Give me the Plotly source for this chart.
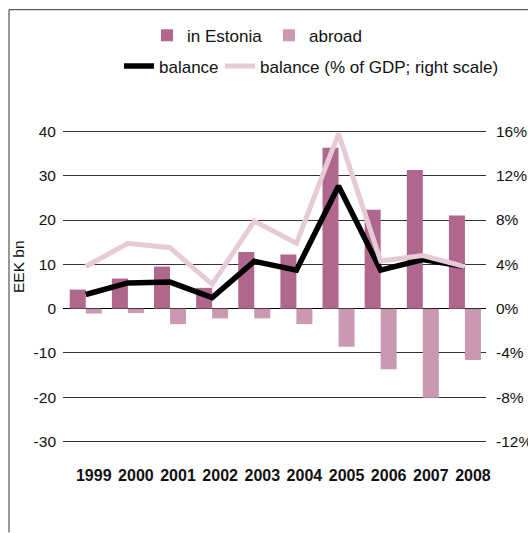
import plotly.graph_objects as go

years = ["1999", "2000", "2001", "2002", "2003", "2004", "2005", "2006", "2007", "2008"]
in_estonia = [4.3, 6.8, 9.5, 4.7, 12.8, 12.2, 36.3, 22.3, 31.3, 21.0]
abroad = [-1.1, -1.0, -3.5, -2.2, -2.2, -3.5, -8.6, -13.7, -20.1, -11.6]
balance = [3.2, 5.8, 6.0, 2.5, 10.7, 8.7, 27.7, 8.7, 11.1, 9.5]
balance_pct = [3.8, 5.9, 5.5, 2.2, 7.9, 5.9, 15.8, 4.3, 4.8, 3.8]

left_ticks = [-30, -20, -10, 0, 10, 20, 30, 40]
left_labels = ["-30", "-20", "-10", "0", "10", "20", "30", "40"]
right_ticks = [-12, -8, -4, 0, 4, 8, 12, 16]
right_labels = ["-12%", "-8%", "-4%", "0%", "4%", "8%", "12%", "16%"]

FONT = "Liberation Sans, Arial, Helvetica, sans-serif"

fig = go.Figure()
fig.add_trace(go.Bar(x=years, y=in_estonia, name="in Estonia",
                     marker=dict(color="#B0678D", line=dict(width=0)), legend="legend"))
fig.add_trace(go.Bar(x=years, y=abroad, name="abroad",
                     marker=dict(color="#CB98B3", line=dict(width=0)), legend="legend"))
fig.add_trace(go.Scatter(x=years, y=balance, name="balance", mode="lines",
                         line=dict(color="#000000", width=5.5), legend="legend2"))
fig.add_trace(go.Scatter(x=years, y=balance_pct, name="balance (% of GDP; right scale)",
                         mode="lines", yaxis="y2",
                         line=dict(color="#E7CAD7", width=5), legend="legend3"))

# pixel -> paper helpers (plot area: x 63..486, y 126.6..446.4)
L, R, T, B = 63, 486, 126.6, 446.4
def px(p):
    return (p - L) / (R - L)
def py(p):
    return (B - p) / (B - T)

leg_common = dict(orientation="h", xanchor="left", yanchor="middle",
                  font=dict(size=17), bgcolor="rgba(0,0,0,0)", traceorder="normal",
                  itemwidth=30)

fig.update_layout(
    width=528, height=533,
    margin=dict(l=L, r=528 - R, t=T, b=533 - B, pad=0, autoexpand=False),
    paper_bgcolor="white", plot_bgcolor="white",
    font=dict(family=FONT, size=15, color="#111"),
    barmode="group", bargap=0.24, bargroupgap=0,
    xaxis=dict(range=[-0.54, 9.5], showgrid=False, zeroline=False, showline=False,
               ticks="", tickfont=dict(size=16, color="#111", family=FONT, weight="bold"),
               ticklabelstandoff=18, ticklabelshift=8, automargin=False),
    yaxis=dict(range=[-31, 41], tickvals=left_ticks, ticktext=left_labels,
               showgrid=True, gridcolor="#333",
               gridwidth=1, zeroline=True, zerolinecolor="#000", zerolinewidth=1,
               showline=False, ticks="", ticklabelstandoff=6, tickfont=dict(size=15.5),
               automargin=False),
    yaxis2=dict(range=[-12.4, 16.4], tickvals=right_ticks, ticktext=right_labels,
                overlaying="y", side="right", showgrid=False, zeroline=False,
                showline=False, ticks="", ticklabelstandoff=9, tickfont=dict(size=15.5),
                automargin=False),
    legend=dict(x=px(147), y=py(35), entrywidth=77, **leg_common),
    legend2=dict(x=px(119), y=py(66), **leg_common),
    legend3=dict(x=px(220), y=py(66), **leg_common),
    annotations=[dict(text="EEK bn", xref="paper", yref="paper", x=px(18), y=py(267),
                      textangle=-90, showarrow=False, font=dict(size=15.5),
                      xanchor="center", yanchor="middle")],
    shapes=[
        dict(type="line", xref="paper", yref="paper", x0=px(9), x1=px(528), y0=py(9), y1=py(9),
             line=dict(color="#333", width=1)),
        dict(type="line", xref="paper", yref="paper", x0=px(9), x1=px(9), y0=py(9), y1=py(533),
             line=dict(color="#333", width=1)),
    ],
    showlegend=True,
)

fig.write_html("out.html", config={"displayModeBar": False},
               post_script="document.body.style.margin='0';document.body.style.overflow='hidden';")
